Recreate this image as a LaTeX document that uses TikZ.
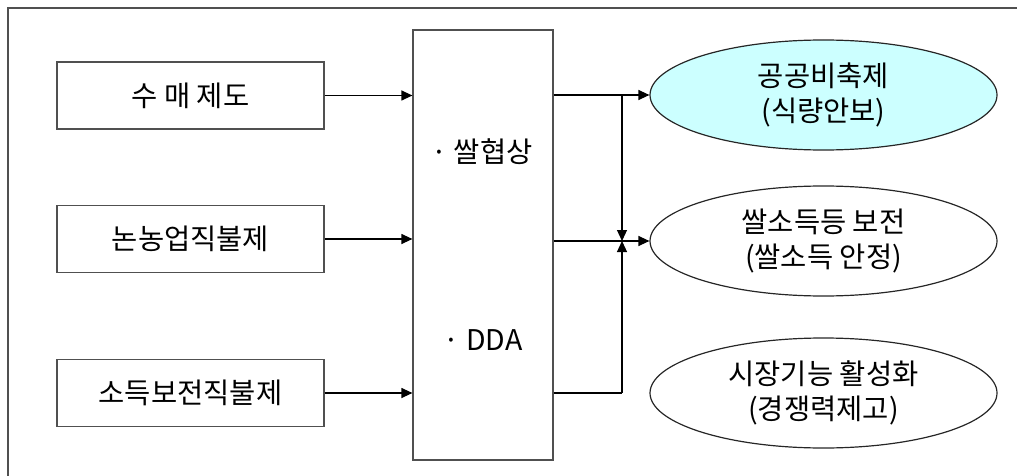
\documentclass[tikz,border=0pt]{standalone}
\usepackage{fontspec}
\setmainfont{Noto Sans CJK KR}
\usepackage{tikz}
\usetikzlibrary{shapes.geometric,arrows.meta}

\definecolor{framegray}{HTML}{505050}
\definecolor{stockcyan}{HTML}{CCFFFF}

\begin{document}
\begin{tikzpicture}[x=1pt,y=-1pt,line width=1.2pt,
  txt/.style={font=\fontsize{28.5}{35}\selectfont},
  policy/.style={txt,draw=framegray,minimum width=267pt,minimum height=67pt,inner sep=0pt},
  goal/.style={txt,ellipse,draw=black!85,minimum width=347pt,minimum height=110pt,inner sep=0pt,align=center},
  arr/.style={-{Triangle[length=11pt,width=10pt]}}]
\useasboundingbox (0,0) rectangle (1017,476);
\draw[framegray] (8,476) -- (8,8) -- (1017,8);

\node[policy] (sumae) at (190.5,95.5) {수 매 제도};
\node[policy] (nonjik) at (190.5,239) {논농업직불제};
\node[policy] (sodeuk) at (190.5,393) {소득보전직불제};

\node[draw=framegray,minimum width=140pt,minimum height=430pt,inner sep=0pt] (nego) at (483,245) {};
\node[txt] (ssalnego) at (482,152) {· 쌀협상};
\node[txt] (dda) at (483,340) {· DDA};

\node[goal,fill=stockcyan] (gonggong) at (823.5,95) {공공비축제\\(식량안보)};
\node[goal] (ssalsodeuk) at (823.5,241) {쌀소득등 보전\\(쌀소득 안정)};
\node[goal] (sijang) at (823.5,393) {시장기능 활성화\\(경쟁력제고)};

\draw[arr] (sumae.east) -- (sumae.east -| nego.west);
\draw[arr] (nonjik.east) -- (nonjik.east -| nego.west);
\draw[arr] (sodeuk.east) -- (sodeuk.east -| nego.west);

\coordinate (jtop) at (622,95);
\coordinate (jmid) at (622,241);
\coordinate (jbot) at (622,393);
\draw[arr] (nego.east |- gonggong.west) -- (gonggong.west);
\draw[arr] (nego.east |- ssalsodeuk.west) -- (ssalsodeuk.west);
\draw (nego.east |- jbot) -- (jbot);
\draw[arr] (jtop) -- (jmid);
\draw[arr] (jbot) -- (jmid);
\end{tikzpicture}
\end{document}
